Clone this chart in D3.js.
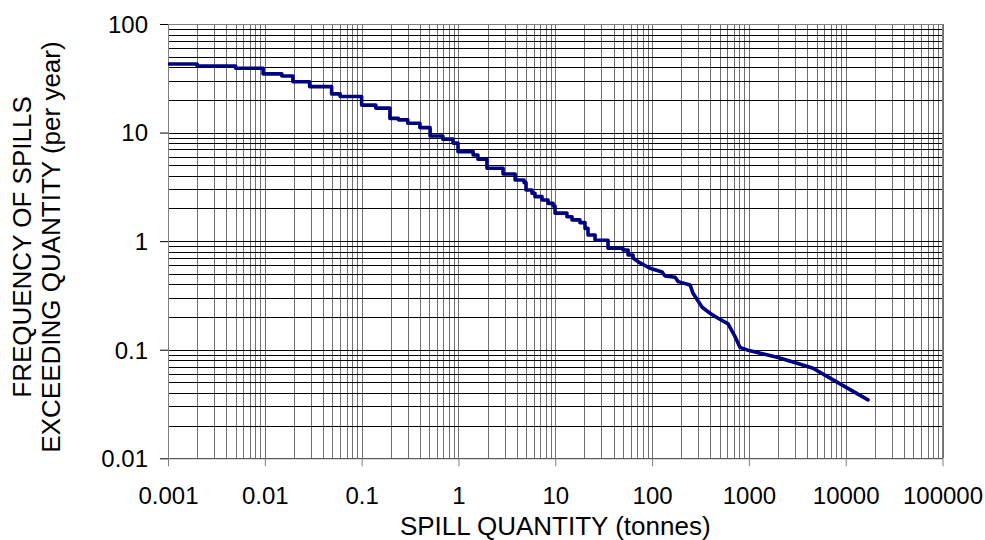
<!DOCTYPE html>
<html>
<head>
<meta charset="utf-8">
<script src="https://cdn.jsdelivr.net/npm/d3@7"></script>
<style>
  html, body { margin: 0; padding: 0; background: #fff; }
  svg { display: block; }
  text { font-family: "Liberation Sans", Arial, sans-serif; fill: #000; }
</style>
</head>
<body>
<svg id="chart" width="985" height="540"></svg>
<script>
// ---- data ----
const xTickValues = [0.001, 0.01, 0.1, 1, 10, 100, 1000, 10000, 100000];
const xTickLabels = ["0.001", "0.01", "0.1", "1", "10", "100", "1000", "10000", "100000"];
const yTickValues = [0.01, 0.1, 1, 10, 100];
const yTickLabels = ["0.01", "0.1", "1", "10", "100"];

// stepped part of the cumulative curve (spill quantity in tonnes, frequency per year)
const stepQuantity = [0.001, 0.002, 0.005, 0.0096, 0.015, 0.0195, 0.029, 0.049, 0.06, 0.1,
  0.14, 0.196, 0.24, 0.3, 0.4, 0.51, 0.69, 0.88, 0.99, 1.42,
  1.59, 1.97, 2.89, 3.85, 4.76, 4.99, 5.75, 6.18, 7.3, 8.43,
  9.5, 9.95, 13.2, 14.9, 18.0, 20.3, 21.8, 25.8, 35.1, 50.1,
  56.5, 63.6];
const stepFrequency = [42.8, 41.0, 39.1, 34.7, 33.2, 29.4, 26.5, 22.7, 21.5, 17.9,
  16.8, 13.5, 13.1, 12.2, 11.1, 9.3, 8.7, 8.0, 6.67, 6.22,
  5.68, 4.69, 4.16, 3.66, 3.46, 2.96, 2.76, 2.57, 2.39, 2.23,
  2.11, 1.81, 1.68, 1.57, 1.48, 1.31, 1.14, 1.02, 0.86, 0.83,
  0.746, 0.70];
// smoother tail of the curve
const tailQuantity = [63.6, 75.2, 95.3, 127, 136, 173, 186, 247, 265, 329,
  397, 481, 610, 720, 811, 957, 1954, 3148, 4603, 6900, 17000];
const tailFrequency = [0.70, 0.63, 0.563, 0.52, 0.478, 0.465, 0.424, 0.395, 0.331, 0.246,
  0.217, 0.195, 0.173, 0.132, 0.105, 0.0996, 0.0853, 0.0751, 0.0676, 0.0547, 0.0345];

// ---- layout ----
const plotLeft = 168, plotRight = 942.5, plotTop = 24, plotBottom = 458.3;
const svg = d3.select("#chart");
const x = d3.scaleLog().domain([0.001, 100000]).range([plotLeft, plotRight]);
const y = d3.scaleLog().domain([0.01, 100]).range([plotBottom, plotTop]);

// minor + major grid values
const xGrid = [], yGrid = [];
for (let e = -3; e < 5; e++) for (let m = 1; m <= 9; m++) xGrid.push(m * Math.pow(10, e));
xGrid.push(100000);
for (let e = -2; e < 2; e++) for (let m = 1; m <= 9; m++) yGrid.push(m * Math.pow(10, e));
yGrid.push(100);

const grid = svg.append("g").attr("shape-rendering", "crispEdges");
grid.selectAll("line.v").data(xGrid).join("line")
  .attr("x1", d => Math.round(x(d)) + 0.5).attr("x2", d => Math.round(x(d)) + 0.5)
  .attr("y1", plotTop).attr("y2", plotBottom)
  .attr("stroke", "#707070").attr("stroke-width", 1);
grid.selectAll("line.h").data(yGrid).join("line")
  .attr("x1", plotLeft).attr("x2", plotRight)
  .attr("y1", d => Math.round(y(d)) + 0.5).attr("y2", d => Math.round(y(d)) + 0.5)
  .attr("stroke", "#000").attr("stroke-width", 1);

// plot border (top and right)
grid.append("line").attr("x1", plotLeft).attr("x2", plotRight).attr("y1", plotTop + 0.5).attr("y2", plotTop + 0.5).attr("stroke", "#808080");
grid.append("line").attr("x1", plotRight).attr("x2", plotRight).attr("y1", plotTop).attr("y2", plotBottom).attr("stroke", "#808080");

// axes
const yAxis = svg.append("g").attr("transform", `translate(${plotLeft},0)`)
  .call(d3.axisLeft(y).tickValues(yTickValues).tickFormat((d, i) => yTickLabels[i])
    .tickSize(8).tickSizeOuter(0).tickPadding(12));
yAxis.select(".domain").attr("stroke", "#808080");
yAxis.selectAll(".tick line").attr("stroke", "#000");
yAxis.selectAll("text").attr("font-size", 24).attr("font-family", "Liberation Sans, Arial, sans-serif").attr("dy", "0.35em");

const xAxis = svg.append("g").attr("transform", `translate(0,${plotBottom})`)
  .call(d3.axisBottom(x).tickValues(xTickValues).tickFormat((d, i) => xTickLabels[i])
    .tickSize(8).tickSizeOuter(0));
xAxis.select(".domain").attr("stroke", "#808080");
xAxis.selectAll(".tick line").attr("stroke", "#808080");
xAxis.selectAll("text").attr("font-size", 24).attr("font-family", "Liberation Sans, Arial, sans-serif")
  .attr("y", 46).attr("dy", null);

// curve
const stepPts = stepQuantity.map((q, i) => [q, stepFrequency[i]]);
const tailPts = tailQuantity.map((q, i) => [q, tailFrequency[i]]);
const stepLine = d3.line().x(d => x(d[0])).y(d => y(d[1])).curve(d3.curveStepAfter);
const tailLine = d3.line().x(d => x(d[0])).y(d => y(d[1])).curve(d3.curveLinear);
const curveG = svg.append("g");
curveG.append("path").attr("d", stepLine(stepPts))
  .attr("fill", "none").attr("stroke", "#000080").attr("stroke-width", 3.6).attr("stroke-linejoin", "round");
curveG.append("path").attr("d", tailLine(tailPts))
  .attr("fill", "none").attr("stroke", "#000080").attr("stroke-width", 3.6).attr("stroke-linejoin", "round").attr("stroke-linecap", "round");

// titles
svg.append("text").attr("x", (plotLeft + plotRight) / 2).attr("y", 535)
  .attr("text-anchor", "middle").attr("font-size", 26).text("SPILL QUANTITY (tonnes)");
svg.append("text").attr("transform", "translate(31,247) rotate(-90)")
  .attr("text-anchor", "middle").attr("font-size", 26).text("FREQUENCY OF SPILLS");
svg.append("text").attr("transform", "translate(60,247) rotate(-90)")
  .attr("text-anchor", "middle").attr("font-size", 26).text("EXCEEDING QUANTITY (per year)");
</script>
</body>
</html>
